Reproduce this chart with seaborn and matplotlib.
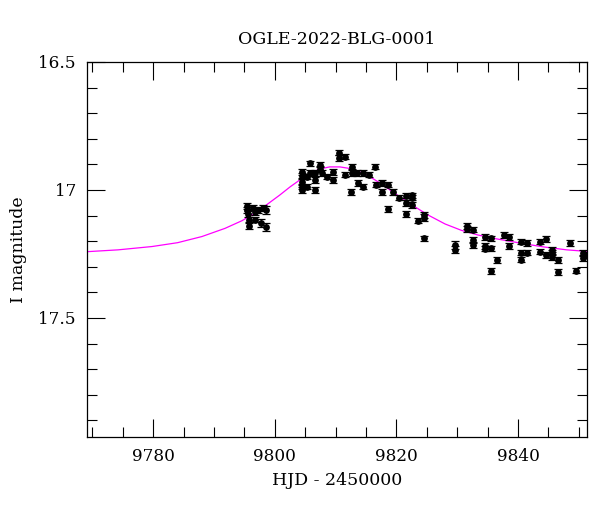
import numpy as np
import pandas as pd
import matplotlib
matplotlib.use("Agg")
import matplotlib.pyplot as plt
import seaborn as sns
from matplotlib.ticker import MultipleLocator, FormatStrFormatter

# photometry
hjd = [9795.39, 9795.39, 9795.56, 9795.72, 9795.72, 9796.38, 9796.71, 9796.71,
       9797.20, 9797.70, 9798.03, 9798.52, 9798.52,
       9804.44, 9804.44, 9804.44, 9804.44, 9804.44, 9805.26, 9805.26, 9805.76,
       9805.76, 9806.58, 9806.58, 9806.58, 9807.40, 9807.40, 9807.73, 9808.55,
       9809.54, 9809.54, 9810.53, 9810.53, 9811.51, 9811.51, 9812.50, 9812.66,
       9812.66, 9813.49, 9813.65, 9814.47, 9814.47, 9815.46, 9816.45, 9816.61,
       9817.60, 9817.60, 9818.59, 9818.59, 9819.41, 9820.39, 9821.55, 9821.55,
       9821.55, 9822.53, 9822.53, 9822.53, 9823.52, 9824.51, 9824.51, 9824.51,
       9829.61, 9829.61, 9831.58, 9831.58, 9832.57, 9832.57, 9832.57, 9834.54,
       9834.54, 9834.54, 9835.53, 9835.53, 9835.53, 9836.51, 9837.66, 9838.49,
       9838.49, 9840.46, 9840.46, 9840.46, 9841.45, 9841.45, 9843.59, 9843.59,
       9844.57, 9844.57, 9845.56, 9845.56, 9845.56, 9846.55, 9846.55, 9848.52,
       9849.51, 9850.66, 9850.66, 9851.30]
mag = [17.062, 17.078, 17.094, 17.117, 17.141, 17.070, 17.086, 17.117,
       17.078, 17.129, 17.070, 17.078, 17.145,
       16.930, 16.945, 16.969, 16.988, 17.000, 16.949, 16.988, 16.895,
       16.934, 16.934, 16.961, 17.000, 16.902, 16.918, 16.934, 16.949,
       16.930, 16.961, 16.855, 16.875, 16.871, 16.941, 17.008, 16.910,
       16.934, 16.934, 16.973, 16.934, 16.988, 16.941, 16.910, 16.980,
       16.973, 17.008, 16.980, 17.074, 17.008, 17.031, 17.023, 17.051,
       17.094, 17.020, 17.031, 17.059, 17.121, 17.098, 17.109, 17.188,
       17.215, 17.234, 17.141, 17.152, 17.156, 17.195, 17.215, 17.184,
       17.219, 17.230, 17.188, 17.227, 17.316, 17.273, 17.176, 17.184,
       17.219, 17.203, 17.246, 17.273, 17.207, 17.246, 17.203, 17.242,
       17.191, 17.254, 17.234, 17.246, 17.262, 17.273, 17.320, 17.207,
       17.316, 17.246, 17.266, 17.254]
mag_err = [0.012, 0.012, 0.010, 0.010, 0.012, 0.010, 0.010, 0.010,
           0.012, 0.014, 0.012, 0.014, 0.014,
           0.010, 0.010, 0.010, 0.010, 0.010, 0.010, 0.010, 0.010,
           0.010, 0.010, 0.010, 0.010, 0.010, 0.010, 0.010, 0.010,
           0.010, 0.010, 0.010, 0.010, 0.010, 0.010, 0.010, 0.010,
           0.010, 0.010, 0.010, 0.010, 0.010, 0.010, 0.010, 0.010,
           0.010, 0.010, 0.010, 0.012, 0.010, 0.010, 0.010, 0.010,
           0.010, 0.010, 0.010, 0.010, 0.010, 0.010, 0.014, 0.010,
           0.014, 0.014, 0.012, 0.012, 0.010, 0.012, 0.010, 0.012,
           0.010, 0.010, 0.010, 0.010, 0.012, 0.012, 0.010, 0.010,
           0.010, 0.010, 0.010, 0.010, 0.010, 0.010, 0.010, 0.010,
           0.012, 0.010, 0.010, 0.010, 0.010, 0.012, 0.012, 0.010,
           0.010, 0.012, 0.012, 0.012]

# model curve
model_hjd = [9769.2, 9774.2, 9779.8, 9784.0, 9788.0, 9791.8, 9794.6, 9796.7,
             9797.5, 9800.8, 9802.5, 9804.1, 9805.8, 9807.4, 9809.0, 9810.7,
             9812.8, 9815.1, 9817.3, 9819.4, 9822.5, 9825.2, 9828.0, 9830.7,
             9833.4, 9836.2, 9840.0, 9844.0, 9848.0, 9851.3]
model_mag = [17.241, 17.234, 17.221, 17.206, 17.182, 17.150, 17.120, 17.091,
             17.078, 17.020, 16.988, 16.961, 16.934, 16.918, 16.910, 16.910,
             16.918, 16.941, 16.973, 17.008, 17.058, 17.098, 17.133, 17.158,
             17.176, 17.190, 17.206, 17.222, 17.234, 17.240]

obs = pd.DataFrame({"hjd": hjd, "mag": mag, "err": mag_err})
model = pd.DataFrame({"hjd": model_hjd, "mag": model_mag})

sns.set_style("ticks")
plt.rcParams["font.family"] = ["DejaVu Serif"]
plt.rcParams["text.color"] = "black"
plt.rcParams["axes.labelcolor"] = "black"
plt.rcParams["xtick.color"] = "black"
plt.rcParams["ytick.color"] = "black"

fig = plt.figure(figsize=(6.0, 5.12), dpi=100)
ax = fig.add_axes([0.145, 0.1465, 0.833, 0.7325])

sns.lineplot(data=model, x="hjd", y="mag", sort=False, color="#ff00ff",
             linewidth=0.9, ax=ax, zorder=1)
ax.errorbar(obs["hjd"], obs["mag"], yerr=obs["err"], fmt="none",
            ecolor="black", elinewidth=0.9, capsize=3.2, capthick=0.9, zorder=2)
sns.scatterplot(data=obs, x="hjd", y="mag", color="black", s=24,
                edgecolor="black", linewidth=0, ax=ax, zorder=3)

ax.set_xlim(9769.1, 9851.3)
ax.set_ylim(17.965, 16.5)

ax.xaxis.set_major_locator(MultipleLocator(20))
ax.xaxis.set_minor_locator(MultipleLocator(5))
ax.yaxis.set_major_locator(MultipleLocator(0.5))
ax.yaxis.set_minor_locator(MultipleLocator(0.1))
ax.yaxis.set_major_formatter(FormatStrFormatter("%g"))

ax.tick_params(which="both", direction="in", top=True, right=True,
               width=0.8, labelsize=12.2, pad=8)
ax.tick_params(which="major", length=13)
ax.tick_params(which="minor", length=7)
for sp in ax.spines.values():
    sp.set_linewidth(0.9)
    sp.set_color("black")

ax.set_xlabel("HJD - 2450000", fontsize=12.5, labelpad=5)
ax.set_ylabel("I magnitude", fontsize=12.5, labelpad=8)
ax.set_title("OGLE-2022-BLG-0001", fontsize=12.5, pad=13)

fig.savefig("out.png", dpi=100)
